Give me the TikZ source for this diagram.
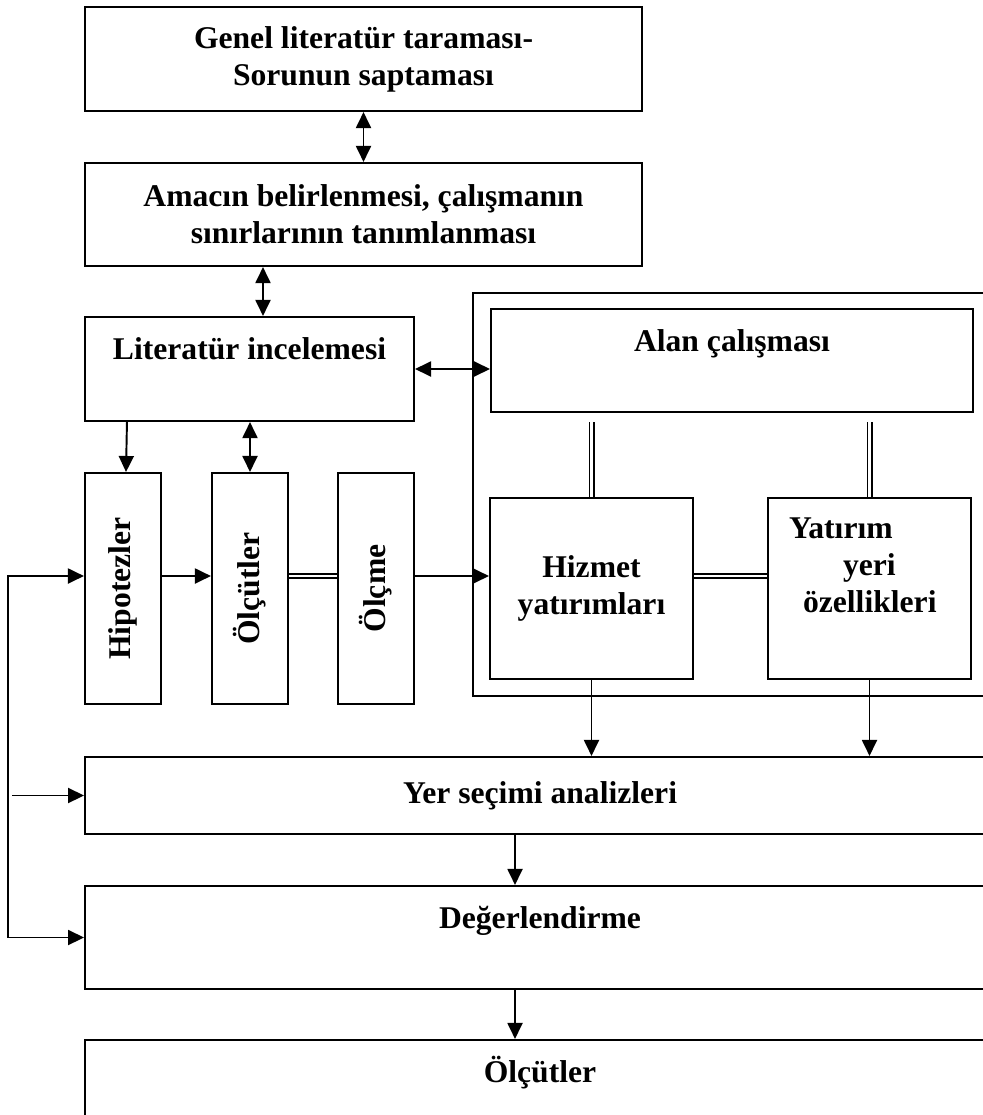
\documentclass[tikz,border=0pt]{standalone}
\usepackage{fontspec}
\setmainfont{Liberation Serif}
\usepackage{graphicx}
\usetikzlibrary{arrows.meta}

\begin{document}
\begin{tikzpicture}[
		x=0.02cm, y=-0.02cm,
		>={Triangle[length=0.32cm,width=0.3cm]},
		box/.style={draw, line width=1.2pt, inner sep=0pt, align=center, font=\fontsize{18pt}{21pt}\selectfont\bfseries},
		toptext/.style={text height=0.45cm, text depth=0.83cm},
		wide/.style={box, minimum width=18.2cm},
		tall/.style={box, minimum width=1.52cm, minimum height=4.62cm},
		conn/.style={line width=1.1pt},
		dbl/.style={line width=1pt, double, double distance=0.05cm}
	]
				\useasboundingbox (0,0) rectangle (983,1115);
				\clip (0,0) rectangle (983,1115);
				\node[box, minimum width=11.14cm, minimum height=2.08cm] (gen) at (363.5,59) {Genel literatür taraması-\\Sorunun saptaması};
				\node[box, minimum width=11.14cm, minimum height=2.06cm] (amac) at (363.5,214.5) {Amacın belirlenmesi, çalışmanın\\sınırlarının tanımlanması};
				\node[box, toptext, minimum width=6.58cm, minimum height=2.08cm] (lit) at (249.5,369) {Literatür incelemesi};
				\draw[line width=1.2pt] (473,293) rectangle (1010,696);
				\node[box, toptext, minimum width=9.64cm, minimum height=2.06cm] (alan) at (732,360.5) {Alan çalışması};
				\node[tall] (hip) at (123,588.5) {\rotatebox{90}{Hipotezler}};
				\node[tall] (olcut) at (250,588.5) {\rotatebox{90}{Ölçütler}};
				\node[tall] (olcme) at (376,588.5) {\rotatebox{90}{Ölçme}};
				\node[box, minimum width=4.06cm, minimum height=3.62cm] (hiz) at (591.5,588.5) {Hizmet\\yatırımları};
				\node[box, minimum width=4.06cm, minimum height=3.62cm, text width=3.22cm, align=left] (yat) at (869.5,588.5) {Yatırım\\\hspace*{1.08cm}yeri\\\hspace*{0.28cm}özellikleri\\[0.2cm]\mbox{}};
				\node[wide, minimum height=1.54cm] (yer) at (540,795.5) {Yer seçimi analizleri};
				\node[wide, toptext, minimum height=2.06cm] (deg) at (540,937.5) {Değerlendirme};
				\node[wide, toptext, minimum height=2.06cm] (olc) at (540,1091.5) {Ölçütler};
				\draw[conn, <->] (gen) -- (amac);
				\draw[conn, <->] ([xshift=0.27cm]amac.south -| lit.north) -- ([xshift=0.27cm]lit.north);
				\draw[conn, <->] (lit.east) -- (alan.west |- lit.east);
				\draw[conn, ->] ([xshift=0.86cm]lit.south west) -- ([xshift=0.06cm]hip.north);
				\draw[conn, <->] (olcut.north |- lit.south) -- (olcut.north);
				\draw[conn, ->] ([yshift=0.25cm]hip.east) -- ([yshift=0.25cm]olcut.west);
				\draw[dbl] ([yshift=0.25cm]olcut.east) -- ([yshift=0.25cm]olcme.west);
				\draw[conn, ->] ([yshift=0.25cm]olcme.east) -- ([yshift=0.25cm]hiz.west);
				\draw[dbl] ([yshift=0.25cm]hiz.east) -- ([yshift=0.25cm]yat.west);
				\draw[dbl] ([yshift=-0.18cm]alan.south -| hiz.north) -- (hiz.north);
				\draw[dbl] ([yshift=-0.18cm]alan.south -| yat.north) -- (yat.north);
				\draw[conn, ->] (hiz.south) -- (hiz.south |- yer.north);
				\draw[conn, ->] (yat.south) -- (yat.south |- yer.north);
				\draw[conn, ->] ([xshift=-0.5cm]yer.south) -- ([xshift=-0.5cm]deg.north);
				\draw[conn, ->] ([xshift=-0.5cm]deg.south) -- ([xshift=-0.5cm]olc.north);
				\draw[conn, <->] (deg.west) -- ++(-1.52cm,0) |- ([yshift=0.25cm]hip.west);
				\draw[conn, ->] ([xshift=-1.44cm]yer.west) -- (yer.west);
			\end{tikzpicture}
\end{document}
